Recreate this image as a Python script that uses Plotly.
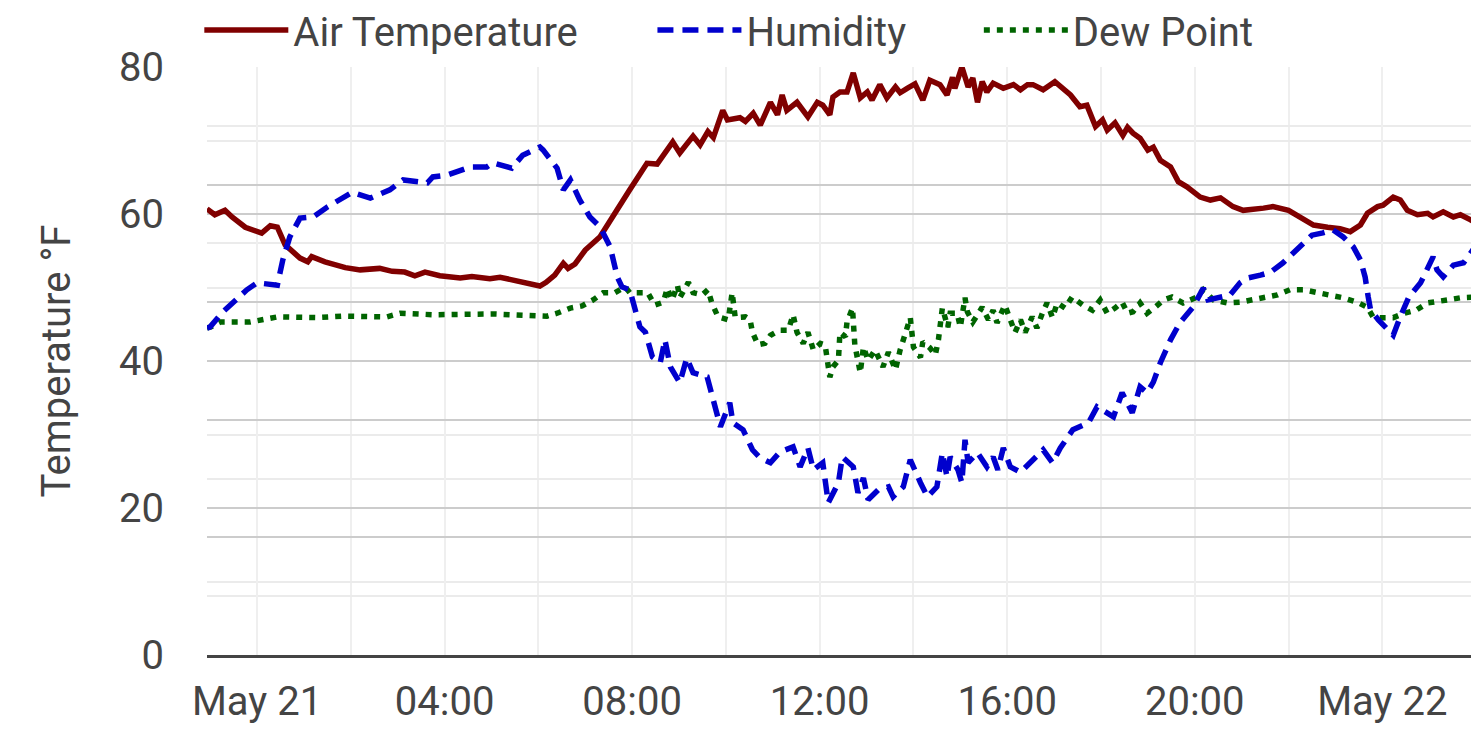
import pandas as pd
import plotly.graph_objects as go

# minutes after midnight, May 21 (negative = evening of May 20)
temp_min = [-64, -54, -41, -32, -15, 0, 6, 17, 26, 36, 55, 65, 70, 87, 113, 132, 157, 173, 189, 202,
            215, 234, 260, 275, 298, 311, 330, 349, 362, 370, 381, 392, 398, 407, 420, 439, 452, 465, 477, 499,
            512, 532, 541, 558, 567, 577, 584, 596, 602, 618, 625, 635, 644, 657, 666, 672, 678, 691, 705, 717,
            724, 733, 737, 746, 755, 763, 772, 781, 787, 797, 806, 817, 823, 832, 842, 852, 861, 874, 883, 890,
            893, 902, 910, 916, 922, 928, 934, 942, 955, 968, 977, 986, 993, 1006, 1021, 1041, 1053, 1062, 1073, 1082,
            1088, 1098, 1108, 1114, 1121, 1130, 1140, 1147, 1156, 1169, 1179, 1190, 1207, 1220, 1233, 1249, 1262, 1288, 1300, 1320,
            1335, 1352, 1370, 1386, 1399, 1412, 1421, 1434, 1441, 1454, 1463, 1472, 1485, 1498, 1505, 1518, 1531, 1540, 1553, 1564]
air_temp = [60.7, 59.9, 60.5, 59.6, 58.2, 57.7, 57.4, 58.4, 58.2, 55.8, 54.0, 53.5, 54.2, 53.5, 52.7, 52.4, 52.6, 52.2, 52.1, 51.6,
            52.1, 51.6, 51.3, 51.5, 51.2, 51.4, 51.0, 50.5, 50.2, 50.7, 51.7, 53.3, 52.6, 53.2, 55.1, 56.9, 59.2, 61.5, 63.3, 66.9,
            66.8, 69.8, 68.3, 70.6, 69.4, 71.2, 70.4, 74.1, 72.8, 73.1, 72.6, 73.7, 72.1, 75.2, 73.5, 76.2, 74.1, 75.2, 73.2, 75.2,
            74.8, 73.5, 75.9, 76.6, 76.6, 79.2, 75.8, 76.6, 75.5, 77.6, 75.8, 77.3, 76.5, 77.1, 77.7, 75.5, 78.2, 77.6, 76.2, 78.6,
            77.1, 80.0, 77.3, 78.5, 75.2, 78.0, 76.6, 77.8, 77.1, 77.6, 76.9, 77.6, 77.6, 76.9, 78.0, 76.2, 74.6, 74.8, 71.9, 72.8,
            71.4, 72.4, 70.7, 71.8, 71.0, 70.3, 68.7, 69.1, 67.3, 66.4, 64.4, 63.7, 62.3, 61.9, 62.2, 61.0, 60.5, 60.8, 61.0, 60.5,
            59.5, 58.5, 58.2, 58.0, 57.6, 58.5, 60.1, 61.0, 61.2, 62.3, 61.9, 60.5, 59.9, 60.1, 59.6, 60.3, 59.6, 59.9, 59.2, 58.5]

hum_min = [-64, -60, -44, -31, -13, 0, 26, 33, 42, 55, 72, 90, 122, 145, 170, 187, 218, 225, 243, 273,
           294, 302, 326, 340, 353, 362, 366, 384, 392, 401, 413, 426, 439, 452, 461, 467, 477, 490, 497, 506,
           516, 522, 529, 541, 550, 558, 576, 584, 593, 605, 609, 622, 634, 644, 657, 669, 686, 695, 705, 712,
           724, 731, 744, 749, 763, 769, 776, 782, 795, 808, 814, 827, 836, 849, 858, 870, 877, 883, 887, 897,
           902, 906, 910, 922, 934, 942, 948, 955, 964, 977, 989, 1000, 1006, 1018, 1028, 1044, 1064, 1075, 1096, 1107,
           1120, 1130, 1139, 1147, 1156, 1169, 1181, 1198, 1211, 1217, 1233, 1245, 1258, 1267, 1284, 1297, 1313, 1333, 1350, 1364,
           1377, 1390, 1403, 1412, 1418, 1422, 1425, 1435, 1446, 1454, 1463, 1474, 1489, 1505, 1510, 1518, 1531, 1544, 1556, 1564]
humidity = [55.6, 55.8, 58.3, 59.9, 62.1, 63.3, 62.9, 67.2, 71.1, 74.3, 74.5, 76.2, 78.7, 77.7, 79.1, 80.8, 80.3, 81.3, 81.6, 83.0,
            83.0, 83.7, 82.8, 85.0, 85.9, 86.4, 85.9, 82.8, 79.1, 80.8, 77.4, 74.5, 72.8, 69.4, 64.3, 62.6, 62.1, 55.8, 54.9, 50.7,
            49.7, 53.6, 49.0, 46.3, 50.5, 48.0, 47.3, 42.9, 38.8, 42.9, 39.5, 38.3, 34.9, 33.5, 32.7, 34.5, 35.4, 32.0, 35.2, 31.5,
            32.7, 25.9, 29.3, 33.7, 32.0, 27.6, 30.1, 26.4, 28.1, 28.6, 26.9, 28.6, 33.2, 29.3, 26.9, 28.6, 34.4, 30.3, 33.7, 31.5,
            29.3, 36.6, 32.7, 34.4, 32.0, 33.7, 31.5, 35.2, 32.0, 31.1, 32.7, 34.4, 34.9, 32.7, 35.2, 38.3, 39.5, 42.2, 40.5, 44.6,
            41.2, 45.6, 44.6, 46.4, 49.7, 53.6, 56.5, 59.2, 62.4, 60.4, 60.9, 61.2, 63.3, 64.1, 64.6, 65.1, 66.7, 69.4, 71.4, 71.8,
            72.3, 71.1, 69.4, 67.2, 64.3, 60.9, 58.7, 57.0, 55.3, 54.4, 57.5, 60.9, 63.3, 67.7, 65.5, 64.3, 66.3, 66.7, 68.9, 70.6]

dew_min = [-64, -60, -47, -9, 26, 77, 110, 166, 183, 225, 302, 353, 371, 384, 401, 416, 430, 443, 458, 471,
           477, 500, 509, 520, 525, 531, 538, 541, 552, 558, 570, 577, 582, 590, 603, 608, 612, 625, 631, 634,
           641, 650, 657, 669, 680, 686, 691, 699, 705, 712, 721, 727, 733, 737, 744, 746, 753, 755, 762, 765,
           768, 772, 776, 782, 791, 797, 801, 808, 817, 823, 829, 836, 840, 849, 852, 861, 868, 872, 877, 884,
           887, 896, 900, 906, 909, 916, 928, 936, 942, 947, 957, 964, 970, 977, 983, 992, 998, 1005, 1011, 1018,
           1024, 1034, 1043, 1057, 1069, 1079, 1088, 1098, 1107, 1114, 1121, 1130, 1139, 1149, 1160, 1171, 1185, 1203, 1211, 1224,
           1242, 1258, 1288, 1306, 1322, 1339, 1357, 1374, 1390, 1408, 1421, 1428, 1437, 1454, 1468, 1483, 1498, 1523, 1540, 1562]
dew_point = [44.5, 44.6, 45.3, 45.3, 46.0, 45.9, 46.1, 46.0, 46.5, 46.3, 46.4, 46.3, 46.1, 46.5, 47.2, 47.5, 48.3, 49.3, 49.3, 50.1,
             49.3, 49.3, 47.6, 48.0, 49.9, 48.3, 50.3, 48.6, 50.7, 49.3, 49.0, 49.7, 47.9, 46.0, 45.6, 49.3, 45.9, 46.0, 45.6, 43.9,
             42.2, 42.4, 43.5, 44.2, 44.2, 46.3, 43.9, 42.4, 43.9, 41.5, 42.4, 42.2, 37.8, 39.2, 40.1, 43.9, 43.3, 45.3, 47.2, 42.2,
             40.1, 38.4, 41.9, 40.1, 41.5, 40.1, 39.2, 41.2, 38.8, 41.5, 43.5, 45.9, 41.9, 40.5, 42.6, 41.8, 40.8, 42.9, 47.2, 44.6,
             46.5, 46.5, 44.6, 48.6, 46.7, 45.3, 47.3, 45.6, 46.9, 45.2, 47.6, 45.6, 43.9, 45.6, 43.9, 46.0, 44.5, 46.5, 47.9, 45.9,
             47.9, 47.2, 48.7, 47.6, 46.9, 48.3, 46.5, 47.2, 48.0, 46.5, 46.7, 47.9, 46.5, 47.3, 48.3, 48.7, 47.9, 48.7, 49.7, 48.3,
             47.9, 48.0, 48.7, 49.0, 49.7, 49.7, 49.3, 49.0, 48.6, 48.0, 47.3, 46.0, 45.9, 45.9, 46.5, 46.9, 47.9, 48.3, 48.6, 48.7]

tick_hours = [0, 4, 8, 12, 16, 20, 24]
tick_text = ["May 21", "04:00", "08:00", "12:00", "16:00", "20:00", "May 22"]

base = pd.Timestamp("2024-05-21")


def to_time(minutes):
    return base + pd.to_timedelta(minutes, unit="m")


font = dict(family="Roboto", size=40, color="#444")

fig = go.Figure()
fig.add_trace(go.Scatter(x=to_time(temp_min), y=air_temp, name="Air Temperature", mode="lines",
                         line=dict(color="#800000", width=5.5), legend="legend"))
fig.add_trace(go.Scatter(x=to_time(hum_min), y=humidity, name="Humidity", mode="lines", yaxis="y2",
                         line=dict(color="#0000cd", width=5.5, dash="16px,9px"), legend="legend2"))
fig.add_trace(go.Scatter(x=to_time(dew_min), y=dew_point, name="Dew Point", mode="lines",
                         line=dict(color="#006400", width=5.5, dash="6px,7px"), legend="legend3"))

# one legend per series so each entry can sit where the original put it
def legend_at(x):
    return dict(orientation="h", x=x, xanchor="left", y=1.063, yanchor="middle",
                font=font, itemwidth=84, bgcolor="rgba(0,0,0,0)")


fig.update_layout(
    width=1479, height=737,
    margin=dict(l=199, r=0, t=59, b=90, autoexpand=False),
    plot_bgcolor="white", paper_bgcolor="white",
    font=font,
    showlegend=True,
    legend=legend_at(-0.006),
    legend2=legend_at(0.348),
    legend3=legend_at(0.603),
    xaxis=dict(
        range=[to_time(-64), to_time(1574)],
        tickvals=[base + pd.Timedelta(hours=h) for h in tick_hours],
        ticktext=tick_text,
        showgrid=True, gridcolor="#efefef", gridwidth=2,
        minor=dict(dtick=2 * 3600 * 1000, showgrid=True, gridcolor="#efefef", gridwidth=2),
        showline=True, linecolor="#444", linewidth=2.5,
        zeroline=False, ticklabelstandoff=9,
    ),
    yaxis=dict(
        range=[0, 80], dtick=20,
        title=dict(text="Temperature °F", font=font, standoff=36),
        showgrid=True, gridcolor="#cccccc", gridwidth=2,
        minor=dict(dtick=10, showgrid=True, gridcolor="#ebebeb", gridwidth=2),
        zeroline=False, ticklabelstandoff=42,
    ),
    yaxis2=dict(
        range=[0, 100], dtick=20, overlaying="y", side="right",
        showticklabels=False,
        showgrid=True, gridcolor="#cccccc", gridwidth=2,
        minor=dict(dtick=10, showgrid=True, gridcolor="#ebebeb", gridwidth=2),
        zeroline=False,
    ),
)

fig.write_html("out.html")
